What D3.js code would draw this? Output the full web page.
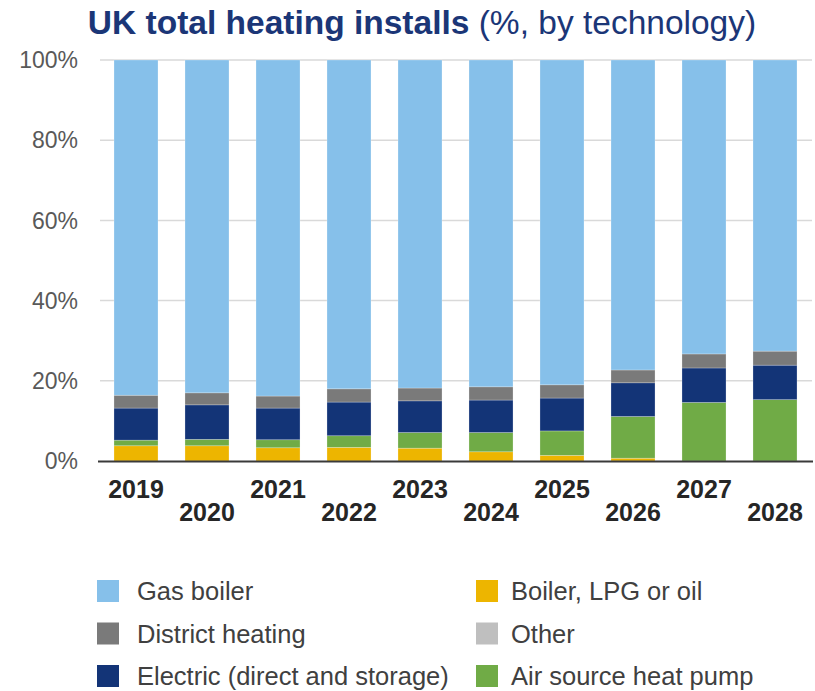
<!DOCTYPE html>
<html>
<head>
<meta charset="utf-8">
<script src="https://cdn.jsdelivr.net/npm/d3@7"></script>
<style>
  html, body { margin: 0; padding: 0; background: #fff; }
  svg { display: block; font-family: "Liberation Sans", Arial, sans-serif; }
</style>
</head>
<body>
<div id="chart"></div>
<script>
////////////////////////////////////////////////////////////////
// Data (% of installs)
const years = ["2019", "2020", "2021", "2022", "2023", "2024", "2025", "2026", "2027", "2028"];
const boilerLpgOil = [3.8, 3.8, 3.3, 3.4, 3.2, 2.3, 1.4, 0.7, 0, 0];
const airSourceHP = [1.4, 1.6, 2.0, 2.9, 3.9, 4.8, 6.1, 10.4, 14.6, 15.3];
const other = [0, 0, 0, 0, 0, 0, 0, 0, 0, 0];
const electric = [8.0, 8.6, 7.9, 8.4, 7.9, 8.1, 8.2, 8.4, 8.6, 8.6];
const district = [3.2, 3.0, 3.0, 3.3, 3.2, 3.3, 3.3, 3.2, 3.5, 3.5];
const gasBoiler = [83.6, 83.0, 83.8, 82.0, 81.8, 81.5, 81.0, 77.3, 73.3, 72.6];
const yTicks = [0, 20, 40, 60, 80, 100];

// stack order, bottom to top
const series = [
  { key: "Boiler, LPG or oil", values: boilerLpgOil, color: "#EDB500" },
  { key: "Air source heat pump", values: airSourceHP, color: "#70AB46" },
  { key: "Other", values: other, color: "#BFBFBF" },
  { key: "Electric (direct and storage)", values: electric, color: "#133477" },
  { key: "District heating", values: district, color: "#7A7A7A" },
  { key: "Gas boiler", values: gasBoiler, color: "#86C0EA" }
];
const legendOrder = [
  ["Gas boiler", "District heating", "Electric (direct and storage)"],
  ["Boiler, LPG or oil", "Other", "Air source heat pump"]
];

////////////////////////////////////////////////////////////////
// Layout
const width = 815, height = 691;

const x = d3.scaleBand()
  .domain(years)
  .range([100.5, 810.5])
  .paddingInner(0.38)
  .paddingOuter(0.19);

const y = d3.scaleLinear([0, 100], [461, 60]);

const colorByKey = new Map(series.map(s => [s.key, s.color]));

const table = years.map((yr, i) => {
  const row = { year: yr };
  series.forEach(s => row[s.key] = s.values[i]);
  return row;
});
const stacked = d3.stack().keys(series.map(s => s.key))(table);

const svg = d3.select("#chart").append("svg")
  .attr("width", width)
  .attr("height", height)
  .attr("viewBox", [0, 0, width, height]);

// title
svg.append("text")
  .attr("x", 422)
  .attr("y", 34)
  .attr("text-anchor", "middle")
  .attr("fill", "#1B3677")
  .style("font-size", "33.5px")
  .call(t => t.append("tspan").attr("font-weight", "bold").text("UK total heating installs "))
  .call(t => t.append("tspan").text("(%, by technology)"));

// gridlines + y labels
const yAxis = svg.append("g");
yAxis.selectAll("line")
  .data(yTicks.filter(d => d > 0))
  .join("line")
  .attr("x1", 100).attr("x2", 812)
  .attr("y1", d => y(d)).attr("y2", d => y(d))
  .attr("stroke", "#D9D9D9")
  .attr("stroke-width", 1.5);

yAxis.selectAll("text")
  .data(yTicks)
  .join("text")
  .attr("x", 78)
  .attr("y", d => y(d))
  .attr("dy", "0.36em")
  .attr("text-anchor", "end")
  .attr("fill", "#595959")
  .style("font-size", "23px")
  .text(d => d + "%");

// bars
svg.append("g")
  .selectAll("g")
  .data(stacked)
  .join("g")
  .attr("fill", d => colorByKey.get(d.key))
  .selectAll("rect")
  .data(d => d)
  .join("rect")
  .attr("x", d => x(d.data.year))
  .attr("y", d => y(d[1]))
  .attr("width", x.bandwidth())
  .attr("height", d => y(d[0]) - y(d[1]))
  .attr("stroke", "#fff")
  .attr("stroke-opacity", 0.35)
  .attr("stroke-width", 0.7);

// baseline
svg.append("line")
  .attr("x1", 98).attr("x2", 813)
  .attr("y1", y(0) + 0.5).attr("y2", y(0) + 0.5)
  .attr("stroke", "#3A3A3A")
  .attr("stroke-width", 2);

// year labels, staggered
svg.append("g")
  .selectAll("text")
  .data(years)
  .join("text")
  .attr("x", d => x(d) + x.bandwidth() / 2)
  .attr("y", (d, i) => i % 2 === 0 ? 498 : 521)
  .attr("text-anchor", "middle")
  .attr("font-weight", "bold")
  .attr("fill", "#262626")
  .style("font-size", "25px")
  .text(d => d);

// legend
const legend = svg.append("g");
legendOrder.forEach((col, ci) => {
  const g = legend.append("g")
    .attr("transform", `translate(${ci === 0 ? 97 : 476}, 0)`);
  const item = g.selectAll("g")
    .data(col)
    .join("g")
    .attr("transform", (d, i) => `translate(0, ${591 + i * 42.5})`);
  item.append("rect")
    .attr("x", 0).attr("y", -11)
    .attr("width", 22).attr("height", 22)
    .attr("fill", d => colorByKey.get(d));
  item.append("text")
    .attr("x", ci === 0 ? 40 : 35)
    .attr("dy", "0.36em")
    .attr("fill", "#404040")
    .style("font-size", "25.5px")
    .text(d => d);
});
</script>
</body>
</html>
